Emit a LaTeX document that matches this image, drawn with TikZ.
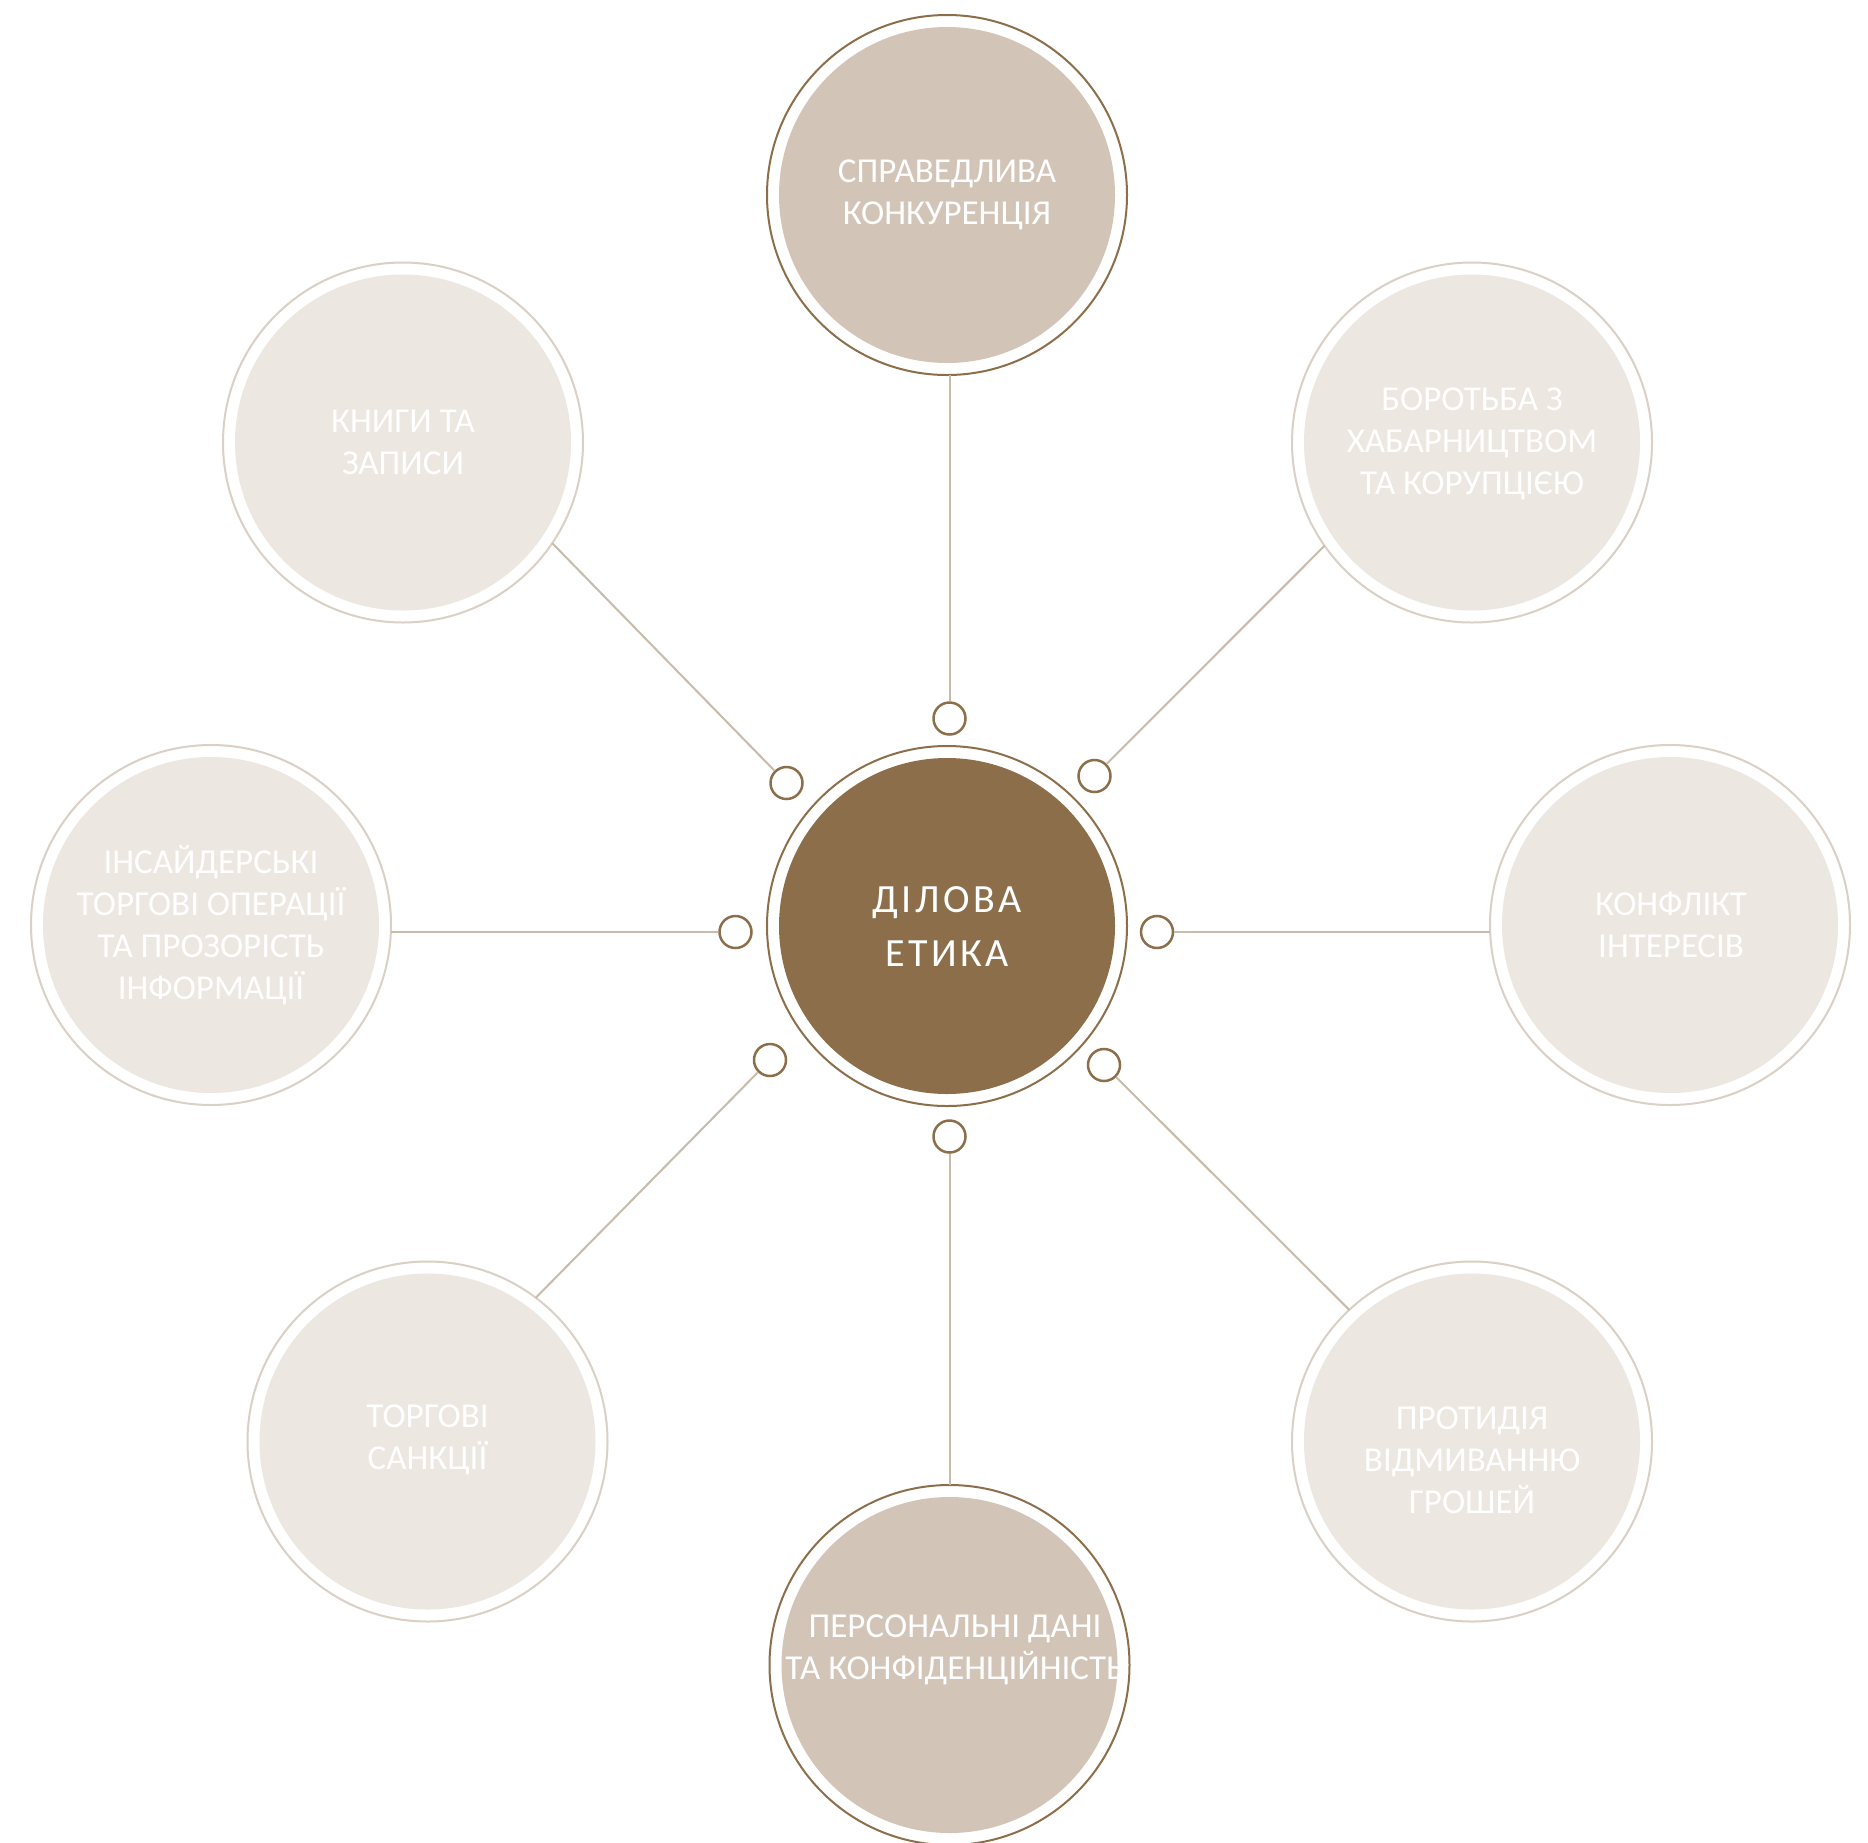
\documentclass[tikz,border=0pt]{standalone}
\usepackage{fontspec}
\setmainfont{Carlito}
\definecolor{cbrown}{HTML}{8C6F4A}
\definecolor{ctaupe}{HTML}{D2C4B7}
\definecolor{clight}{HTML}{ECE7E1}
\definecolor{clring}{HTML}{DAD0C5}
\definecolor{cconn}{HTML}{C9BBAA}
\begin{document}
\begin{tikzpicture}[x=1pt,y=-1pt,
  ring/.style={circle, draw=#1, line width=2pt, minimum size=360pt, inner sep=0pt, outer sep=0pt},
  disc/.style={circle, fill=#1, minimum size=336pt, inner sep=0pt, outer sep=0pt},
  lbl/.style={text=white, align=center, font=\fontsize{35}{42}\selectfont},
  dot/.style={circle, draw=cbrown, line width=2.5pt, fill=white, minimum size=32pt, inner sep=0pt},
  conn/.style={draw=cconn, line width=2pt}]
\useasboundingbox (0,0) rectangle (1868,1842);
\clip (0,0) rectangle (1868,1842);
\fill[white] (0,0) rectangle (1868,1842);

% rings
\node[ring=cbrown] (c) at (947,926) {};
\node[ring=cbrown] (t) at (947,195) {};
\node[ring=cbrown] (b) at (949.5,1665) {};
\node[ring=clring] (tl) at (403,442.5) {};
\node[ring=clring] (tr) at (1472,442.5) {};
\node[ring=clring] (l) at (211,925) {};
\node[ring=clring] (r) at (1670,925) {};
\node[ring=clring] (bl) at (427.5,1441.5) {};
\node[ring=clring] (br) at (1472,1441.5) {};

% discs
\node[disc=cbrown] (cd) at (c) {};
\node[disc=ctaupe] (td) at (t) {};
\node[disc=ctaupe] (bd) at (b) {};
\node[disc=clight] (tld) at (tl) {};
\node[disc=clight] (trd) at (tr) {};
\node[disc=clight] (ld) at (l) {};
\node[disc=clight] (rd) at (r) {};
\node[disc=clight] (bld) at (bl) {};
\node[disc=clight] (brd) at (br) {};

% small circles
\node[dot] (st) at (949.5,718.5) {};
\node[dot] (stl) at (786.5,783) {};
\node[dot] (str) at (1094.5,776) {};
\node[dot] (sl) at (735.5,932) {};
\node[dot] (sr) at (1157,932) {};
\node[dot] (sbl) at (770,1060) {};
\node[dot] (sbr) at (1104,1065) {};
\node[dot] (sb) at (949.5,1136.5) {};

% connectors
\draw[conn] (st |- t.south) -- (st);
\draw[conn] (sb) -- (sb |- b.north);
\draw[conn] (sl -| l.east) -- (sl);
\draw[conn] (sr) -- (sr -| r.west);
\draw[conn] (tl.-34.4) -- (stl);
\draw[conn] (tr.-145.5) -- (str);
\draw[conn] (bl.53.1) -- (sbl);
\draw[conn] (br.133.5) -- (sbr);

% labels
\node[text=white, align=center, font=\fontsize{40}{54}\selectfont\addfontfeature{LetterSpace=9}] (ct) at (947,927) {ДІЛОВА\\ЕТИКА};
\node[lbl] (tt) at (947,195) {СПРАВЕДЛИВА\\КОНКУРЕНЦІЯ};
\node[lbl] (bt) at (955,1650) {ПЕРСОНАЛЬНІ ДАНІ\\ТА КОНФІДЕНЦІЙНІСТЬ};
\node[lbl] (tlt) at (403,442.5) {КНИГИ ТА\\ЗАПИСИ};
\node[lbl] (trt) at (1472,443.5) {БОРОТЬБА З\\ХАБАРНИЦТВОМ\\ТА КОРУПЦІЄЮ};
\node[lbl] (lt) at (211,925) {ІНСАЙДЕРСЬКІ\\ТОРГОВІ ОПЕРАЦІЇ\\ТА ПРОЗОРІСТЬ\\ІНФОРМАЦІЇ};
\node[lbl] (rt) at (1671,925) {КОНФЛІКТ\\ІНТЕРЕСІВ};
\node[lbl] (blt) at (427.5,1440) {ТОРГОВІ\\САНКЦІЇ};
\node[lbl] (brt) at (1472,1460) {ПРОТИДІЯ\\ВІДМИВАННЮ\\ГРОШЕЙ};
\end{tikzpicture}
\end{document}
